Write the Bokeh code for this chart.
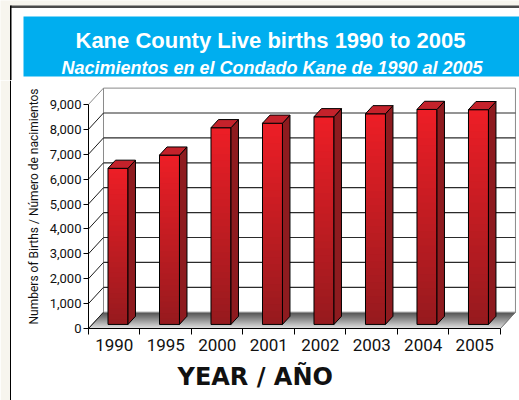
import numpy as np
from bokeh.plotting import figure
from bokeh.layouts import column, row
from bokeh.models import Range1d, FixedTicker, NumeralTickFormatter, Title
from bokeh.core.properties import value
from bokeh.embed import file_html
from bokeh.resources import INLINE

# ---------------- data ----------------
years = ["1990", "1995", "2000", "2001", "2002", "2003", "2004", "2005"]
births = [6270, 6800, 7900, 8080, 8340, 8460, 8635, 8625]
y_ticks = [0, 1000, 2000, 3000, 4000, 5000, 6000, 7000, 8000, 9000]
title_en = "Kane County Live births 1990 to 2005"
title_es = "Nacimientos en el Condado Kane de 1990 al 2005"
x_title = "YEAR / AÑO"
y_title = "Numbers of Births / Número de nacimientos"

LABEL_FONT = "Roboto"
CREAM = "#f7f5ee"


def lerp_hex(c0, c1, f):
    c0 = np.array(c0, float)
    c1 = np.array(c1, float)
    out = []
    for ff in np.atleast_1d(f):
        c = c0 + (c1 - c0) * ff
        out.append("#%02x%02x%02x" % tuple(int(round(v)) for v in c))
    return out


W = 519
# ---------------- banner figure ----------------
HA = 80
pa = figure(width=W, height=HA, x_range=Range1d(0, W), y_range=Range1d(0, HA),
            x_axis_location=None, y_axis_location=None, toolbar_location=None,
            output_backend="svg", min_border=0, outline_line_color=None,
            background_fill_color=CREAM, border_fill_color=CREAM)
pa.grid.visible = False
pa.quad(left=10, right=W, bottom=0, top=HA - 6, fill_color="white", line_color=None)
pa.quad(left=10, right=W, bottom=HA - 7.5, top=HA - 5, fill_color="#4a4a4a", line_color=None)
pa.quad(left=9.5, right=11, bottom=0, top=HA - 5, fill_color="black", line_color=None)
pa.quad(left=23, right=W, bottom=HA - 76, top=HA - 16, fill_color="#00aeef", line_color=None)
pa.text(x=[270], y=[HA - 40], text=[title_en], text_font=value("Liberation Sans"),
        text_font_style="bold", text_font_size="22px", text_color="white",
        text_align="center", text_baseline="alphabetic")
pa.text(x=[271.5], y=[HA - 67], text=[title_es], text_font=value("Liberation Sans"),
        text_font_style="bold italic", text_font_size="18px", text_color="white",
        text_align="center", text_baseline="alphabetic")

# ---------------- left edge strip ----------------
HB = 320
WC = 11
pc = figure(width=WC, height=HB, x_range=Range1d(0, WC), y_range=Range1d(0, HB),
            x_axis_location=None, y_axis_location=None, toolbar_location=None,
            output_backend="svg", min_border=0, outline_line_color=None,
            background_fill_color="white", border_fill_color="white")
pc.grid.visible = False
pc.quad(left=0, right=9.5, bottom=0, top=HB, fill_color=CREAM, line_color=None)
pc.quad(left=9.5, right=11, bottom=0, top=HB, fill_color="black", line_color=None)

# ---------------- chart figure ----------------
NCAT = len(years)
XEND = 8.35
YEND = 9800
DX = 0.291     # depth offset in category units
DY = 655       # depth offset in value units
DF, DB = 0.25, 0.5
BW = 0.388

pb = figure(width=W - WC, height=HB, x_range=Range1d(0, XEND), y_range=Range1d(0, YEND),
            toolbar_location=None, output_backend="svg",
            min_border_left=88 - WC, min_border_right=1, min_border_top=4, min_border_bottom=72,
            outline_line_color=None, background_fill_color="white", border_fill_color="white")
pb.xgrid.visible = False
pb.ygrid.visible = False

# floor gradient
NF = 16
t = np.linspace(0, 1, NF + 1)
fxs, fys = [], []
for t0, t1 in zip(t[:-1], t[1:]):
    fxs.append([t0 * DX, NCAT + t0 * DX, NCAT + t1 * DX, t1 * DX])
    fys.append([t0 * DY, t0 * DY, t1 * DY, t1 * DY])
fcols = lerp_hex((228, 228, 228), (75, 75, 75), (t[:-1] + t[1:]) / 2)
pb.patches(fxs, fys, fill_color=fcols, line_color=fcols, line_width=0.6)
pb.patch([0, NCAT, NCAT + DX, DX], [0, 0, DY, DY], fill_color=None, line_color="#777777", line_width=1)

ymax = y_ticks[-1]
# back wall and left wall
pb.quad(left=DX, right=NCAT + DX, bottom=DY, top=ymax + DY, fill_color="white", line_color="#8a8a8a")
pb.patch([0, DX, DX, 0], [0, DY, ymax + DY, ymax], fill_color="white", line_color="#8a8a8a")
gy = np.array(y_ticks[1:-1], float)
pb.segment(x0=np.full(len(gy), DX), y0=gy + DY, x1=np.full(len(gy), NCAT + DX), y1=gy + DY,
           line_color="#2b2b2b", line_width=1.2)
dy_all = np.array(y_ticks[:-1], float)
pb.segment(x0=np.zeros(len(dy_all)), y0=dy_all, x1=np.full(len(dy_all), DX), y1=dy_all + DY,
           line_color="#1a1a1a", line_width=1)

# bars
b = np.array(births, float)
cx = np.arange(NCAT) + 0.5
left = cx - BW / 2 + DF * DX
right = left + BW
bot = DF * DY
top = b + DF * DY
NS = 30
k = np.arange(NS)
L = np.repeat(left, NS)
R = np.repeat(right, NS)
T = np.repeat(top, NS)
f0 = np.tile(k / NS, NCAT)
f1 = np.tile((k + 1) / NS, NCAT)
B0 = bot + (T - bot) * f0
B1 = np.minimum(bot + (T - bot) * (f1 + 0.6 / NS), T)
scol = lerp_hex((150, 26, 30), (237, 30, 38), (f0 + f1) / 2)
pb.quad(left=L, right=R, bottom=B0, top=B1, fill_color=scol, line_color=None)
pb.quad(left=left, right=right, bottom=bot, top=top, fill_color=None, line_color="black", line_width=1)

sxs = [[r, r + DB * DX, r + DB * DX, r] for r in right]
sys_ = [[bot, bot + DB * DY, tp + DB * DY, tp] for tp in top]
pb.patches(sxs, sys_, fill_color="#8e1b1f", line_color="black", line_width=1)
txs = [[l, r, r + DB * DX, l + DB * DX] for l, r in zip(left, right)]
tys = [[tp, tp, tp + DB * DY, tp + DB * DY] for tp in top]
pb.patches(txs, tys, fill_color="#c4222b", line_color="black", line_width=1)

# y axis
yax = pb.yaxis[0]
yax.ticker = FixedTicker(ticks=y_ticks)
yax.formatter = NumeralTickFormatter(format="0,0")
yax.bounds = (0, ymax)
yax.major_tick_in = 0
yax.major_tick_out = 5
yax.minor_tick_line_color = None
yax.axis_line_color = "black"
yax.major_tick_line_color = "black"
yax.major_label_text_font = LABEL_FONT
yax.major_label_text_font_size = "13px"
yax.major_label_text_color = "#111111"
yax.major_label_standoff = 2
yax.axis_label = y_title
yax.axis_label_text_font = LABEL_FONT
yax.axis_label_text_font_size = "12px"
yax.axis_label_text_font_style = "normal"
yax.axis_label_text_color = "#111111"
yax.axis_label_standoff = 6

# x axis
xax = pb.xaxis[0]
xax.ticker = FixedTicker(ticks=list(cx), minor_ticks=list(range(NCAT + 1)))
xax.major_label_overrides = {float(c): yr for c, yr in zip(cx, years)}
xax.major_tick_line_color = None
xax.major_tick_in = 0
xax.major_tick_out = 6
xax.minor_tick_in = 0
xax.minor_tick_out = 6
xax.minor_tick_line_color = "black"
xax.axis_line_color = "black"
xax.bounds = (0, NCAT)
xax.major_label_text_font = LABEL_FONT
xax.major_label_text_font_size = "17px"
xax.major_label_text_color = "#111111"
xax.major_label_standoff = 4

xt = Title(text=x_title, align="left", offset=89, text_font="DejaVu Sans",
           text_font_style="bold", text_font_size="24px", text_color="#111111", standoff=15)
pb.add_layout(xt, "below")

layout = column(column(pa), row(column(pc), pb, spacing=0), spacing=0)
open("out.html", "w").write(file_html(layout, INLINE))
